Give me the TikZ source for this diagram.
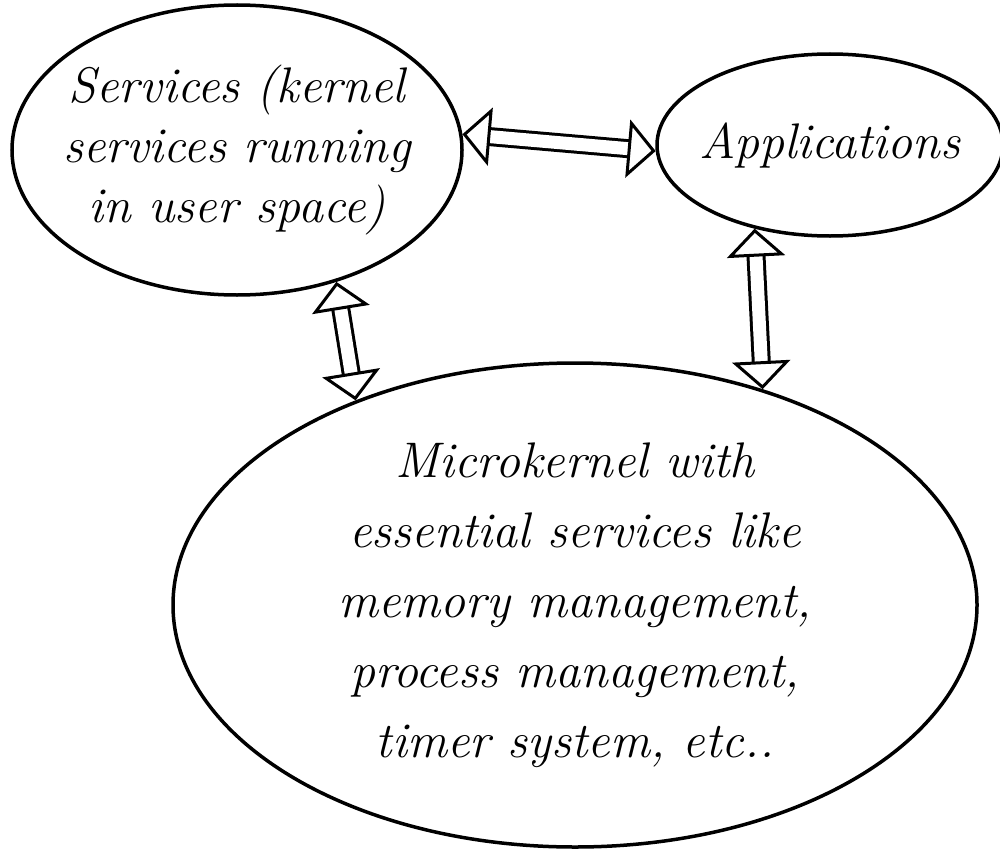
\documentclass[tikz,border=0pt]{standalone}
\usepackage{tikz}
\usetikzlibrary{shapes,arrows.meta}
\begin{document}
\begin{tikzpicture}[x=1pt,y=-1pt,
  blob/.style={draw,ellipse,line width=3.5pt,inner sep=0pt,align=center},
  dbl/.style={double,double distance=13pt,line width=3pt,
    {Triangle[open,width=58pt,length=28pt]}-{Triangle[open,width=58pt,length=28pt]}}]
\useasboundingbox (0,0) rectangle (1000,848);

\node[blob,minimum width=450pt,minimum height=290pt,inner xsep=-40pt,
  font=\fontsize{50}{60}\selectfont\itshape] (serv) at (237,150)
  {Services (kernel\\services running\\in user space)};
\node[blob,minimum width=346pt,minimum height=182pt,inner xsep=-40pt,
  font=\fontsize{50}{50}\selectfont\itshape] (apps) at (830,145) {Applications};
\node[blob,minimum width=804pt,minimum height=484pt,inner xsep=-40pt,
  font=\fontsize{50}{70}\selectfont\itshape] (micro) at (575,605)
  {Microkernel with\\essential services like\\memory management,\\process management,\\timer system, etc..};

% double arrows between the parts
\draw[dbl] (serv.4) -- (apps.182);
\draw[dbl] (serv.-53) -- (micro.137);
\draw[dbl] (apps.-132) -- (micro.49);

\end{tikzpicture}
\end{document}
